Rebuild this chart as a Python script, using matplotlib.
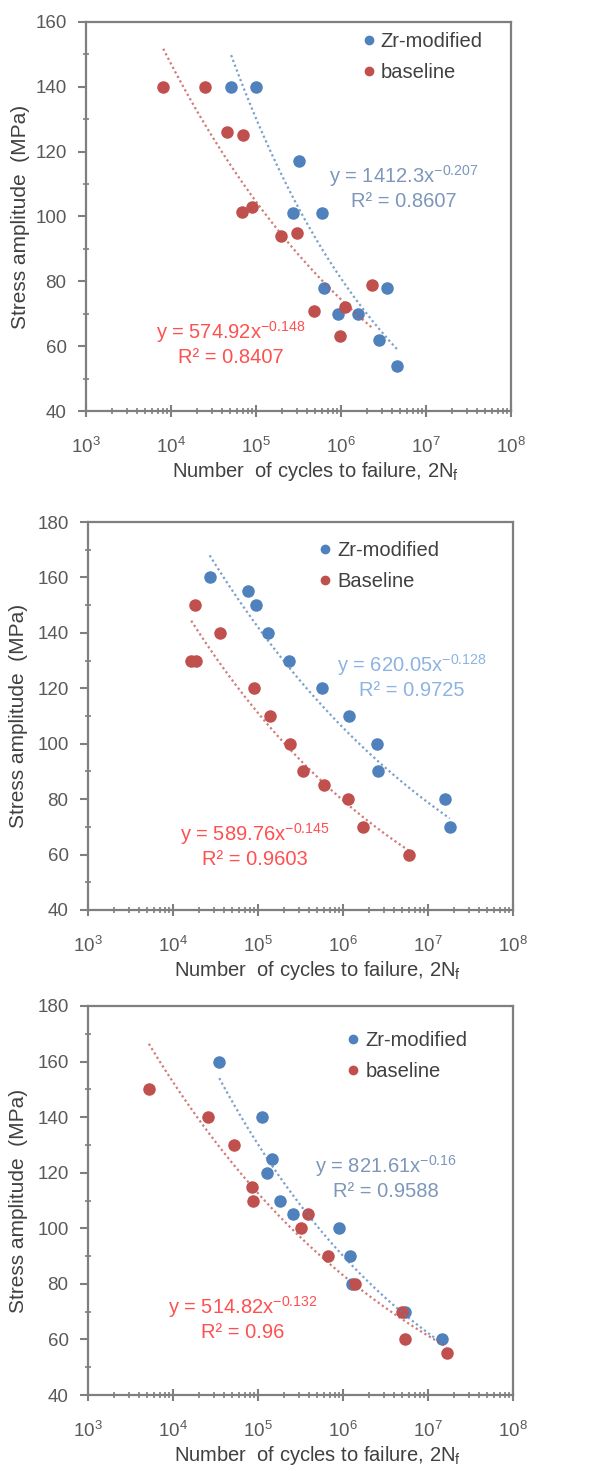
import matplotlib
matplotlib.use('Agg')
import matplotlib.pyplot as plt
import numpy as np
from matplotlib.ticker import MultipleLocator, LogLocator, NullFormatter

plt.rcParams['font.family'] = ['Liberation Sans', 'DejaVu Sans']
plt.rcParams['mathtext.default'] = 'regular'

# --- data ---
p1_zr_N = [5.1e4, 1.0e5, 3.2e5, 2.7e5, 5.9e5, 6.3e5, 3.5e6, 9.1e5, 1.6e6, 2.8e6, 4.6e6]
p1_zr_S = [140, 140, 117, 101, 101, 78, 78, 70, 70, 62, 54]
p1_base_N = [8.1e3, 2.5e4, 4.6e4, 7.1e4, 6.9e4, 8.9e4, 1.95e5, 3.0e5, 4.8e5, 9.8e5, 1.1e6, 2.3e6]
p1_base_S = [140, 140, 126, 125, 101.5, 103, 94, 95, 71, 63, 72, 79]

p2_zr_N = [2.7e4, 7.6e4, 9.5e4, 1.3e5, 2.3e5, 5.7e5, 1.18e6, 2.5e6, 2.6e6, 1.6e7, 1.8e7]
p2_zr_S = [160, 155, 150, 140, 130, 120, 110, 100, 90, 80, 70]
p2_base_N = [1.8e4, 3.6e4, 1.64e4, 1.88e4, 8.9e4, 1.4e5, 2.35e5, 3.4e5, 5.9e5, 1.15e6, 1.7e6, 6.0e6]
p2_base_S = [150, 140, 130, 130, 120, 110, 100, 90, 85, 80, 70, 60]

p3_zr_N = [3.5e4, 1.1e5, 1.48e5, 1.26e5, 1.8e5, 2.6e5, 8.9e5, 1.2e6, 1.26e6, 5.4e6, 1.45e7]
p3_zr_S = [160, 140, 125, 120, 110, 105, 100, 90, 80, 70, 60]
p3_base_N = [5.2e3, 2.6e4, 5.2e4, 8.6e4, 8.7e4, 3.9e5, 3.2e5, 6.6e5, 1.4e6, 5.0e6, 5.4e6, 1.66e7]
p3_base_S = [150, 140, 130, 115, 110, 105, 100, 90, 80, 70, 60, 55]

# power-law trendlines as printed on the chart: (coefficient, exponent, R^2)
p1_zr_fit = (1412.3, -0.207, '0.8607')
p1_base_fit = (574.92, -0.148, '0.8407')
p2_zr_fit = (620.05, -0.128, '0.9725')
p2_base_fit = (589.76, -0.145, '0.9603')
p3_zr_fit = (821.61, -0.16, '0.9588')
p3_base_fit = (514.82, -0.132, '0.96')

base_labels = ['baseline', 'Baseline', 'baseline']
y_tops = [160, 180, 180]

BLUE = '#4F81BD'
RED = '#C0504D'
GRAY = '#7F7F7F'

fig = plt.figure(figsize=(5.91, 14.74), dpi=100)
W, H = 591, 1474

# pixel boxes (left, right, top, bottom) of each plot area
boxes = [(86, 511, 22, 411), (88, 513, 522, 910), (88, 513, 1006, 1395)]
legend_pos = [(0.651, 0.975), (0.544, 0.95), (0.61, 0.936)]
eq_zr_pos = [(0.748, 0.576), (0.762, 0.604), (0.70, 0.56)]
eq_base_pos = [(0.341, 0.175), (0.392, 0.168), (0.364, 0.198)]
eq_zr_color = ['#7D96BA', '#8DB3E2', '#7D96BA']
ylabel_x = [-0.155, -0.163, -0.163]

panels = [
    (p1_zr_N, p1_zr_S, p1_base_N, p1_base_S, p1_zr_fit, p1_base_fit),
    (p2_zr_N, p2_zr_S, p2_base_N, p2_base_S, p2_zr_fit, p2_base_fit),
    (p3_zr_N, p3_zr_S, p3_base_N, p3_base_S, p3_zr_fit, p3_base_fit),
]


def trend(ax, N, fit, color):
    a, b, _ = fit
    xs = np.logspace(np.log10(min(N)), np.log10(max(N)), 100)
    ax.plot(xs, a * xs ** b, linestyle=(0, (1, 1.3)), color=color, lw=1.6,
            alpha=0.75, zorder=4)


def eq_text(fit):
    a, b, r2 = fit
    return 'y = %sx$^{%s}$\nR² = %s' % (a, ('%g' % b).replace('-', '\u2212'), r2)


for i, (zN, zS, bN, bS, zfit, bfit) in enumerate(panels):
    l, r, t, btm = boxes[i]
    ax = fig.add_axes([l / W, (H - btm) / H, (r - l) / W, (btm - t) / H])

    ax.plot(zN, zS, 'o', color=BLUE, ms=8, label='Zr-modified', zorder=3)
    ax.plot(bN, bS, 'o', color=RED, ms=8, label=base_labels[i], zorder=3)
    trend(ax, zN, zfit, BLUE)
    trend(ax, bN, bfit, RED)

    ax.set_xscale('log')
    ax.set_xlim(1e3, 1e8)
    ax.set_ylim(40, y_tops[i])
    ax.yaxis.set_major_locator(MultipleLocator(20))
    ax.yaxis.set_minor_locator(MultipleLocator(10))
    ax.xaxis.set_major_locator(LogLocator(base=10, numticks=10))
    ax.xaxis.set_minor_locator(LogLocator(base=10, subs=np.arange(2, 10), numticks=20))
    ax.xaxis.set_minor_formatter(NullFormatter())

    for s in ax.spines.values():
        s.set_color(GRAY)
        s.set_linewidth(1.6)
    ax.tick_params(axis='x', which='major', direction='inout', length=9, width=1.5,
                   color=GRAY, pad=14, labelsize=13.5, labelcolor='#595959')
    ax.tick_params(axis='x', which='minor', direction='inout', length=5, width=1.2,
                   color=GRAY)
    ax.tick_params(axis='y', which='major', direction='out', length=6, width=1.5,
                   color=GRAY, pad=8, labelsize=13.5, labelcolor='#595959')
    ax.tick_params(axis='y', which='minor', direction='inout', length=4, width=1.2,
                   color=GRAY)

    ax.set_xlabel('Number  of cycles to failure, 2N$_f$', fontsize=14.5, color='#404040')
    ax.xaxis.set_label_coords(0.541, -0.125)
    ax.set_ylabel('Stress amplitude  (MPa)', fontsize=15, color='#404040', va='center')
    ax.yaxis.set_label_coords(ylabel_x[i], 0.5)

    ax.legend(loc='upper left', bbox_to_anchor=legend_pos[i], frameon=False,
              fontsize=14.5, handlelength=0.6, handletextpad=0.3, borderpad=0,
              borderaxespad=0, labelspacing=0.6, markerscale=0.75,
              labelcolor='#404040')

    ax.text(*eq_zr_pos[i], eq_text(zfit), transform=ax.transAxes, ha='center',
            va='center', multialignment='center', fontsize=14.5, color=eq_zr_color[i])
    ax.text(*eq_base_pos[i], eq_text(bfit), transform=ax.transAxes, ha='center',
            va='center', multialignment='center', fontsize=14.5, color='#FF5050')

fig.savefig('out.png', dpi=100)
